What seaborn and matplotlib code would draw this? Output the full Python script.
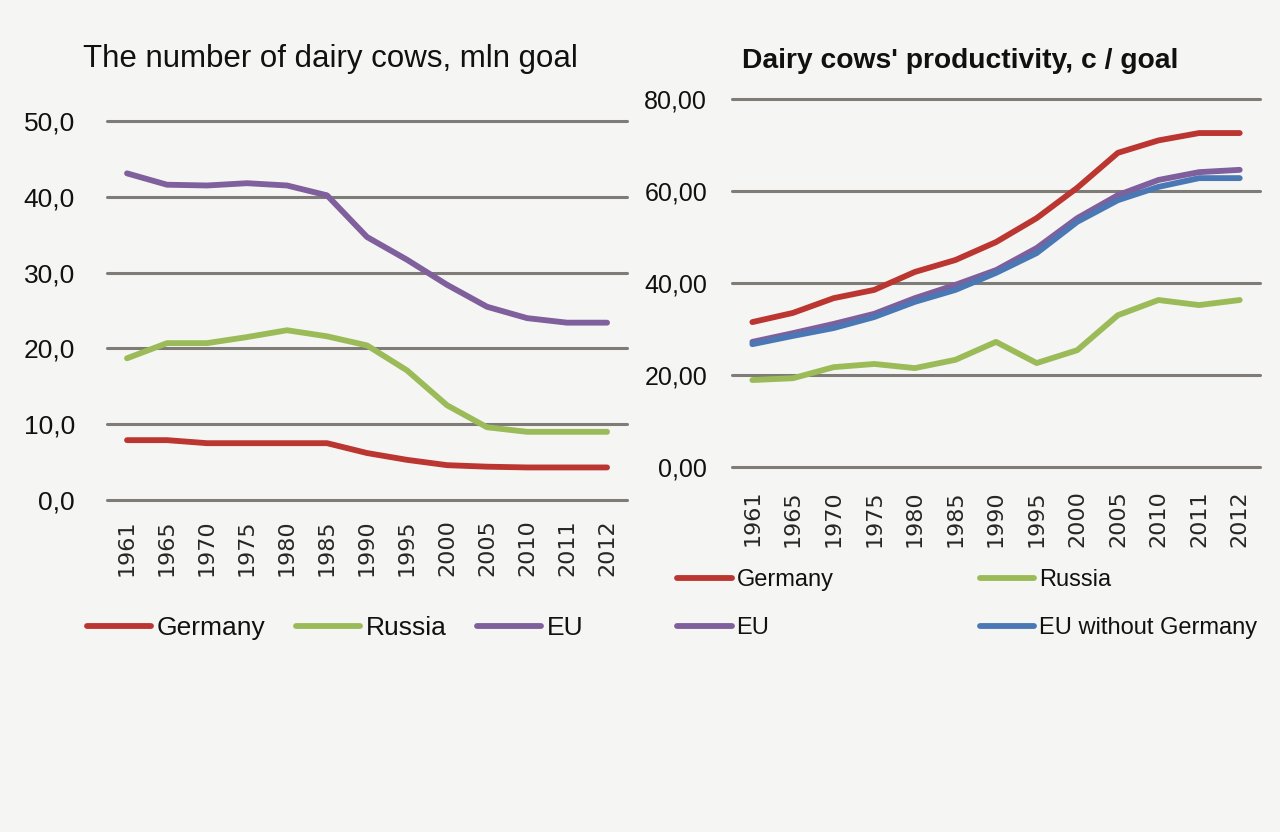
import pandas as pd
import matplotlib
matplotlib.use('Agg')
import matplotlib.pyplot as plt
import seaborn as sns

# Datos
years = ['1961', '1965', '1970', '1975', '1980', '1985', '1990',
         '1995', '2000', '2005', '2010', '2011', '2012']

# Numero de vacas lecheras, mln
cows_germany = [7.9, 7.9, 7.5, 7.5, 7.5, 7.5, 6.2, 5.3, 4.6, 4.4, 4.3, 4.3, 4.3]
cows_russia = [18.7, 20.7, 20.7, 21.5, 22.4, 21.6, 20.4, 17.1, 12.5, 9.6, 9.0, 9.0, 9.0]
cows_eu = [43.1, 41.6, 41.5, 41.8, 41.5, 40.2, 34.7, 31.7, 28.4, 25.5, 24.0, 23.4, 23.4]

# Productividad, c / cabeza
prod_germany = [31.5, 33.5, 36.7, 38.5, 42.4, 45.0, 48.9, 54.1, 60.7, 68.3, 71.0, 72.6, 72.6]
prod_russia = [18.9, 19.3, 21.7, 22.4, 21.5, 23.3, 27.2, 22.6, 25.4, 33.0, 36.3, 35.2, 36.3]
prod_eu = [27.2, 29.1, 31.1, 33.3, 36.7, 39.6, 42.8, 47.6, 54.1, 59.1, 62.4, 64.1, 64.6]
prod_eu_wo_germany = [26.7, 28.5, 30.2, 32.6, 35.9, 38.5, 42.2, 46.5, 53.3, 58.0, 60.9, 62.8, 62.8]

colores = {'Germany': '#bc3631', 'Russia': '#9bbb59', 'EU': '#7f5f9c',
           'EU without Germany': '#4a78b5'}

sns.set_style('white')
plt.rcParams['font.family'] = ['Liberation Sans', 'DejaVu Sans']
plt.rcParams['text.color'] = '#111111'

fondo = '#f5f5f4'
gris = '#7f7b77'

fig = plt.figure(figsize=(12.8, 8.32), dpi=100, facecolor=fondo)
ax1 = fig.add_axes([0.0836, 0.399, 0.4063, 0.4555])
ax2 = fig.add_axes([0.5719, 0.4387, 0.4125, 0.4423])


def tabla(series):
    df = pd.DataFrame(series)
    df['pos'] = range(len(years))
    return df.melt(id_vars='pos', var_name='serie', value_name='valor')


def dibujar(ax, df, orden, yticks, fmt, ypad, xpad, ysize):
    ax.set_facecolor(fondo)
    sns.lineplot(data=df, x='pos', y='valor', hue='serie', hue_order=orden,
                 palette=colores, linewidth=4.2, legend=False, ax=ax)
    ax.set_xlim(-0.5, len(years) - 0.5)
    ax.set_ylim(yticks[0], yticks[-1])
    ax.set_yticks(yticks)
    ax.set_yticklabels([fmt.format(v).replace('.', ',') for v in yticks])
    ax.set_xticks(range(len(years)))
    ax.set_xticklabels(years, rotation=90, family=['DejaVu Sans'], fontsize=16)
    ax.tick_params(axis='x', length=0, pad=xpad)
    ax.tick_params(axis='y', length=0, pad=ypad, labelsize=ysize, labelcolor='#111111')
    ax.set_xlabel('')
    ax.set_ylabel('')
    ax.set_axisbelow(True)
    ax.grid(axis='y', color=gris, linewidth=2.2)
    ax.grid(axis='x', visible=False)
    for gl in ax.get_ygridlines():
        gl.set_clip_on(False)
    sns.despine(ax=ax, left=True, bottom=True)


# Grafica izquierda: numero de vacas
df_cows = tabla({'Germany': cows_germany, 'Russia': cows_russia, 'EU': cows_eu})
orden1 = ['Germany', 'Russia', 'EU']
dibujar(ax1, df_cows, orden1, [0, 10, 20, 30, 40, 50], '{:.1f}', 23, 14, 19)
fig.text(330 / 1280, 1 - 67 / 832, 'The number of dairy cows, mln goal',
         ha='center', va='baseline', fontsize=22.5)
handles1 = ax1.get_lines()[:3]
fig.legend(handles1, orden1, loc='center', bbox_to_anchor=(335 / 1280, 1 - 628 / 832),
           ncol=3, frameon=False, fontsize=19, handlelength=2.45,
           handletextpad=0.2, columnspacing=1.15)

# Grafica derecha: productividad
df_prod = tabla({'Germany': prod_germany, 'Russia': prod_russia, 'EU': prod_eu,
                 'EU without Germany': prod_eu_wo_germany})
orden2 = ['Germany', 'Russia', 'EU', 'EU without Germany']
dibujar(ax2, df_prod, orden2, [0, 20, 40, 60, 80], '{:.2f}', 18, 16.5, 18)
fig.text(960 / 1280, 1 - 68 / 832, "Dairy cows' productivity, c / goal",
         ha='center', va='baseline', fontsize=20.3, fontweight='bold')
lineas = dict(zip(orden2, ax2.get_lines()[:4]))
# ncol=2 llena por columnas
orden_leyenda = ['Germany', 'EU', 'Russia', 'EU without Germany']
fig.legend([lineas[k] for k in orden_leyenda], orden_leyenda,
           loc='upper left', bbox_to_anchor=(668 / 1280, 1 - 560 / 832),
           ncol=2, frameon=False, fontsize=17, handlelength=2.3,
           handletextpad=0.2, columnspacing=6.2, labelspacing=1.1,
           borderaxespad=0, borderpad=0.4)

fig.savefig('out.png', dpi=100, facecolor=fondo)
